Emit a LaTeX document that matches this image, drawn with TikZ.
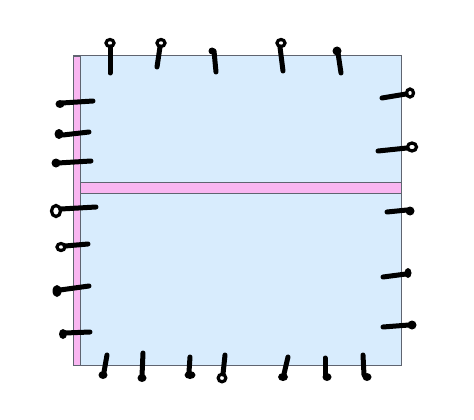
\documentclass[tikz,border=0pt]{standalone}
\begin{document}
\begin{tikzpicture}[x=1pt,y=-1pt,
  stroke/.style={line width=5pt,line cap=round,black},
  loopo/.style={line width=3.2pt,black},
  blob/.style={fill=black}]
\definecolor{paneblue}{HTML}{D8ECFD}
\definecolor{stripink}{HTML}{F9B6F1}
\definecolor{edgegray}{HTML}{5F6470}
\useasboundingbox (0,0) rectangle (474,420);
% panel
\draw[edgegray,line width=1pt,fill=paneblue] (73,56) rectangle (401,365);
\draw[edgegray,line width=0.8pt,fill=stripink] (73,56) rectangle (80,365);
\draw[edgegray,line width=0.8pt,fill=stripink] (80,182) rectangle (401,193);
% top marks
\draw[stroke] (110,73) -- (110,47); \draw[loopo] (110,43) ellipse (4 and 3.5);
\draw[stroke] (157,67) -- (160,47); \draw[loopo] (161,43) ellipse (4 and 3.5);
\draw[stroke] (216,72) -- (214,51); \fill (212,51) circle (3.5);
\draw[stroke] (283,71) -- (280,47); \draw[loopo] (281,43) ellipse (4 and 3.5);
\draw[stroke] (341,73) -- (338,53); \fill (337,51) circle (4.5);
% right marks
\draw[stroke] (382,98) -- (406,94); \draw[loopo] (410,93) ellipse (3.5 and 4);
\draw[stroke] (378,151) -- (407,148); \draw[loopo] (412,147) ellipse (4.5 and 4);
\draw[stroke] (387,212) -- (407,210); \fill (410,211) circle (4.5);
\draw[stroke] (383,277) -- (406,274); \fill (408,273) ellipse (3.5 and 5);
\draw[stroke] (383,327) -- (409,325); \fill (412,325) circle (4.5);
% left marks
\draw[stroke] (93,101) -- (62,103); \fill (60,104) ellipse (4.5 and 4);
\draw[stroke] (89,132) -- (63,135); \fill (59,134) ellipse (4.5 and 5);
\draw[stroke] (91,161) -- (58,163); \fill (56,163) ellipse (4.5 and 4.5);
\draw[stroke] (96,207) -- (61,209); \draw[loopo] (56,211) ellipse (4.5 and 5.5);
\draw[stroke] (88,244) -- (65,246); \draw[loopo] (61,247) ellipse (4 and 3.5);
\draw[stroke] (89,286) -- (60,290); \fill (57,291) ellipse (4.5 and 6);
\draw[stroke] (90,332) -- (65,333); \fill (63,334) ellipse (4 and 5);
% bottom marks
\draw[stroke] (107,355) -- (104,372); \fill (103,375) ellipse (4.5 and 4);
\draw[stroke] (143,353) -- (142,376); \fill (142,378) ellipse (4.5 and 4);
\draw[stroke] (190,357) -- (189,372); \fill (190,375) ellipse (5.5 and 4);
\draw[stroke] (225,355) -- (223,374); \draw[loopo] (222,378) ellipse (3.8 and 3.8);
\draw[stroke] (288,357) -- (284,374); \fill (283,377) ellipse (5 and 4);
\draw[stroke] (325,358) -- (325,375); \fill (327,377) ellipse (4.5 and 4);
\draw[stroke] (363,355) -- (364,375); \fill (367,377) ellipse (4.5 and 4);
\end{tikzpicture}
\end{document}
